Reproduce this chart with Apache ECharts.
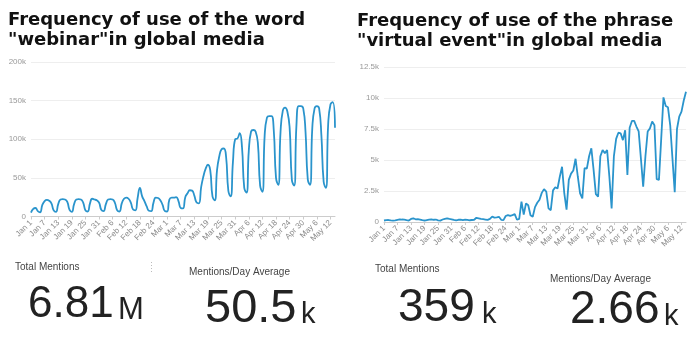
<!DOCTYPE html>
<html><head><meta charset="utf-8">
<script src="https://cdn.jsdelivr.net/npm/echarts@6/dist/echarts.min.js"></script>
<style>html,body{margin:0;padding:0;background:#fff}#c{width:700px;height:338px}</style>
</head><body><div id="c"></div>
<script>
// ---- data ----
const startDate = '2020-01-01';
const dayCount = 135;
const monthNames = ['Jan','Feb','Mar','Apr','May','Jun','Jul','Aug','Sep','Oct','Nov','Dec'];

const webinarValues = [
  5000, 10000, 11000, 7000, 5500,
  15000, 20000, 21500, 20500, 17000, 8000, 6000,
  16000, 22000, 22500, 22000, 19000, 8500, 6000,
  16000, 22000, 22500, 22000, 18000, 8000, 6500,
  17000, 23000, 22000, 21000, 18000, 8500, 7000,
  16000, 22000, 22500, 22000, 17500, 8000, 6500,
  17000, 23000, 24500, 23000, 18000, 9000, 8000,
  24000, 37000, 26000, 20000, 13000, 7500, 7000,
  18000, 24500, 24000, 21000, 15000, 7000, 6500,
  22000, 24500, 24500, 25000, 20000, 11000, 10500,
  25000, 30000, 34000, 33500, 27000, 18000, 17000,
  38000, 52000, 62000, 67000, 60000, 26000, 21000,
  60000, 78000, 87000, 88000, 77000, 33000, 26000,
  70000, 100000, 101000, 108000, 90000, 37000, 31000,
  85000, 110000, 112000, 110000, 95000, 40000, 32000,
  105000, 128000, 130000, 130000, 112000, 50000, 41000,
  110000, 137000, 141000, 136000, 115000, 47000, 40000,
  118000, 143000, 143000, 140000, 110000, 48000, 41000,
  115000, 140000, 143000, 140000, 105000, 45000, 37000,
  120000, 145000, 148000, 115000
];

const virtualEventValues = [
  120, 150, 160, 130, 110,
  140, 180, 220, 200, 190, 150, 120,
  250, 300, 220, 240, 200, 150, 120,
  160, 200, 220, 180, 200, 130, 110,
  200, 260, 300, 250, 220, 170, 140,
  180, 200, 160, 190, 170, 140, 160,
  180, 340, 300, 260, 230, 200, 170,
  250, 430, 350, 380, 420, 180, 150,
  480, 560, 500, 560, 640, 180, 250,
  1650, 600, 1500, 1350, 550, 420, 1200,
  1550, 1800, 2350, 2650, 2450, 1100, 950,
  2550, 2800, 2700, 3650, 4450, 2300, 1000,
  3400, 3900, 4150, 5100, 3650, 2300, 1900,
  4350, 4300, 5300, 5950, 4200, 2250, 2050,
  5300, 5800, 5550, 5800, 3650, 1100, 5300,
  6700, 7200, 7150, 6600, 7400, 3800, 7600,
  8150, 8150, 7700, 7300, 5100, 2850, 5300,
  7300, 7550, 8100, 7800, 3450, 3400, 6700,
  10050, 9350, 9250, 7800, 5100, 2400, 7500,
  8500, 8900, 9800, 10500
];

const titleLeft = 'Frequency of use of the word\n"webinar"in global media';
const titleRight = 'Frequency of use of the phrase\n"virtual event"in global media';
const statLabelTotal = 'Total Mentions';
const statLabelAvg = 'Mentions/Day Average';
const webinarTotal = ['6.81', 'M'];
const webinarAvg = ['50.5', 'k'];
const virtualTotal = ['359', 'k'];
const virtualAvg = ['2.66', 'k'];

// ---- categories ----
const categories = [];
{
  const d0 = new Date(startDate + 'T00:00:00Z');
  for (let i = 0; i < dayCount; i++) {
    const d = new Date(d0.getTime() + i * 86400000);
    categories.push(monthNames[d.getUTCMonth()] + ' ' + d.getUTCDate());
  }
}

const kFmt = v => v === 0 ? '0' : (v / 1000) + 'k';
const lineColor = '#2a94cc';
const sans = 'Liberation Sans';

function xAxisCfg(g) {
  return {
    gridIndex: g, type: 'category', data: categories, boundaryGap: false,
    axisLine: { lineStyle: { color: '#ccc' } },
    axisTick: { show: true, interval: 5, length: 3, lineStyle: { color: '#ccc' } },
    axisLabel: { interval: 5, rotate: 45, fontSize: 8, color: '#8a8a8a', margin: 5, fontFamily: sans }
  };
}
function yAxisCfg(g, max, interval) {
  return {
    gridIndex: g, type: 'value', min: 0, max: max, interval: interval,
    axisLine: { show: false }, axisTick: { show: false },
    axisLabel: { formatter: kFmt, fontSize: 8, color: '#999', margin: 5, fontFamily: sans },
    splitLine: { lineStyle: { color: '#eee' } }
  };
}
function txt(text, x, y, size, color) {
  return { type: 'text', x: x, y: y,
    style: { text: text, font: size + 'px "' + sans + '"', fill: color, verticalAlign: 'middle', align: 'left' } };
}

const chart = echarts.init(document.getElementById('c'));
chart.setOption({
  animation: false,
  title: [
    { text: titleLeft, left: 8, top: 10, padding: 0,
      textStyle: { fontFamily: 'DejaVu Sans', fontWeight: 'bold', fontSize: 18, lineHeight: 20, color: '#111' } },
    { text: titleRight, left: 357, top: 11, padding: 0,
      textStyle: { fontFamily: 'DejaVu Sans', fontWeight: 'bold', fontSize: 18, lineHeight: 20, color: '#111' } }
  ],
  grid: [
    { left: 31, top: 62, width: 304, height: 154.5 },
    { left: 384, top: 67, width: 302, height: 155 }
  ],
  xAxis: [xAxisCfg(0), xAxisCfg(1)],
  yAxis: [yAxisCfg(0, 200000, 50000), yAxisCfg(1, 12500, 2500)],
  series: [
    { type: 'line', xAxisIndex: 0, yAxisIndex: 0, data: webinarValues, showSymbol: false, smooth: 0.5,
      lineStyle: { color: lineColor, width: 1.8 }, itemStyle: { color: lineColor } },
    { type: 'line', xAxisIndex: 1, yAxisIndex: 1, data: virtualEventValues, showSymbol: false,
      lineStyle: { color: lineColor, width: 1.8 }, itemStyle: { color: lineColor } }
  ],
  graphic: [
    txt(statLabelTotal, 15, 267.5, 10, '#444'),
    txt(statLabelAvg, 189, 272.5, 10, '#444'),
    txt(statLabelTotal, 375, 268.8, 10, '#444'),
    txt(statLabelAvg, 550, 279.5, 10, '#444'),
    txt(webinarTotal[0], 28, 304.5, 44, '#222'),
    txt(webinarTotal[1], 118, 310, 31, '#222'),
    txt(webinarAvg[0], 205, 309, 47, '#222'),
    txt(webinarAvg[1], 301, 314.5, 29, '#222'),
    txt(virtualTotal[0], 398, 308, 46, '#222'),
    txt(virtualTotal[1], 482, 314.5, 29, '#222'),
    txt(virtualAvg[0], 570, 310, 46, '#222'),
    txt(virtualAvg[1], 664, 316.5, 29, '#222'),
    { type: 'line', shape: { x1: 151.5, y1: 262, x2: 151.5, y2: 274 },
      style: { stroke: '#bbb', lineWidth: 1, lineDash: [1, 2] } }
  ]
});
</script></body></html>
